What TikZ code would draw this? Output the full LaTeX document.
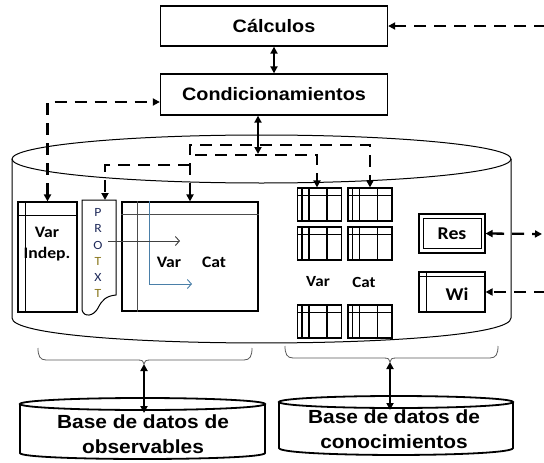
\documentclass[tikz,border=0pt]{standalone}
\usepackage{fontspec}
\setmainfont{Liberation Sans}[FakeStretch=1.1]
\newfontfamily\calfont{Carlito}[FakeStretch=1.1]
\usetikzlibrary{arrows.meta}
\definecolor{navyt}{HTML}{1F2A5A}
\definecolor{olivet}{HTML}{8C7A20}
\definecolor{blueln}{HTML}{4A7FA8}
\tikzset{
  box/.style={draw, line width=1.3pt, inner sep=0pt, font=\fontsize{18}{20}\selectfont\bfseries},
  tb/.style={draw, line width=1.1pt, inner sep=0pt},
  tbl/.style={line width=1.1pt},
  dsh/.style={line width=2.3pt, dash pattern=on 12pt off 8pt},
  thk/.style={line width=2.2pt},
  cyl/.style={line width=1pt},
  dbcyl/.style={line width=1.8pt},
  brc/.style={line width=0.8pt, gray!70!black},
  calb/.style={font={\calfont\bfseries\fontsize{16}{21}\selectfont}},
  cals/.style={font={\calfont\bfseries\fontsize{15.5}{18}\selectfont}},
  calr/.style={font={\calfont\bfseries\fontsize{18}{20}\selectfont}},
  letr/.style={font={\calfont\fontsize{12.5}{13}\selectfont}, inner sep=0pt},
  dbtext/.style={align=center, font={\fontsize{19}{25}\selectfont\bfseries}},
}
\newcommand\smalltbl[3]{%
  \node[tb, minimum width=44pt, minimum height=33pt] (#1) at (#2,#3) {};
  \draw[tbl] ([xshift=5pt]#1.north west) -- ([xshift=5pt]#1.south west);
  \draw[tbl] ([xshift=12pt]#1.north west) -- ([xshift=12pt]#1.south west);
  \draw[tbl] ([xshift=30pt]#1.north west) -- ([xshift=30pt]#1.south west);
  \draw[tbl] ([yshift=-8pt]#1.north west) -- ([yshift=-8pt]#1.north east);
}
\begin{document}
\begin{tikzpicture}[x=1pt,y=-1pt,>={Triangle[length=7pt,width=7pt]}]
\useasboundingbox (0,0) rectangle (544,463);
\fill[white] (0,0) rectangle (544,463);

% top boxes
\node[box, minimum width=227pt, minimum height=40pt] (calc) at (274,26) {Cálculos};
\node[box, minimum width=227pt, minimum height=41pt] (cond) at (274,94.5) {Condicionamientos};
\draw[thk,<->] (calc.south) -- (cond.north);

% big cylinder
\draw[cyl] (261.5,159) ellipse [x radius=249.5, y radius=24];
\draw[cyl] (12,159) -- (12,318) .. controls (12,351.3) and (511,351.3) .. (511,318) -- (511,159);

% Var Indep table
\node[tb, minimum width=59pt, minimum height=110pt] (vi) at (47.5,257) {};
\draw[tbl] ([xshift=8pt]vi.north west) -- ([xshift=8pt]vi.south west);
\draw[tbl] ([yshift=-14pt]vi.north west) -- ([yshift=-14pt]vi.north east);
\node[calb, align=center, inner sep=0pt] (vit) at (47,244) {Var\\Indep.};

% PROTXT document
\draw[line width=1pt] (82,200) -- (116,200) -- (116,295) .. controls (106,296) and (102,300) .. (98,308) .. controls (94,316) and (84,318) .. (82,310) -- cycle;
\coordinate (ptop) at (105,200);
\node[letr, text=navyt] (l1) at (98,212) {P};
\node[letr, text=navyt] (l2) at (98,228) {R};
\node[letr, text=navyt] (l3) at (98,245) {O};
\node[letr, text=olivet] (l4) at (98,261) {T};
\node[letr, text=navyt] (l5) at (98,277) {X};
\node[letr, text=olivet] (l6) at (98,293) {T};

% big table
\node[tb, minimum width=136pt, minimum height=109pt] (bt) at (190,256.5) {};
\draw[line width=1.1pt, gray!60!black] ([yshift=-13pt]bt.north west) -- ([yshift=-13pt]bt.north east);
\draw[line width=1.1pt, gray!60!black] ([xshift=16pt]bt.north west) -- ([xshift=16pt]bt.south west);
\coordinate (btip) at (192,284);
\draw[line width=0.9pt, blueln, -{Straight Barb[length=4pt,width=9pt]}] ([xshift=28pt]bt.north west) |- (btip);
\coordinate (gs) at (108,241);
\coordinate (ge) at (180,241);
\draw[line width=0.9pt, gray!50!black, -{Straight Barb[length=4pt,width=9pt]}] (gs) -- (ge);
\node[calb] (btv) at (169,262) {Var};
\node[calb] (btc) at (214,262) {Cat};

% small tables
\smalltbl{t11}{319.5}{204.5}
\smalltbl{t12}{370}{204.5}
\smalltbl{t21}{319.5}{243.5}
\smalltbl{t22}{370}{243.5}
\smalltbl{t31}{319.5}{321.5}
\smalltbl{t32}{370}{321.5}
\node[cals] (stv) at (318,282) {Var};
\node[cals] (stc) at (364,282) {Cat};

% Res and Wi
\node[tb, minimum width=66pt, minimum height=39pt, calr] (res) at (452,233.5) {Res};
\draw[tbl] ([shift={(5pt,-5pt)}]res.north west) rectangle ([shift={(-4pt,5pt)}]res.south east);
\node[tb, minimum width=66pt, minimum height=40pt] (wi) at (452,292) {};
\draw[tbl] ([yshift=-5pt]wi.north west) -- ([yshift=-5pt]wi.north east);
\draw[tbl] ([xshift=8pt]wi.north west) -- ([xshift=8pt]wi.south west);
\node[calr] (wit) at (457,294) {Wi};

% dashed connectors
\coordinate (a1) at (190,145);
\coordinate (a2) at (370,145);
\draw[dsh,<->] (bt.north) -- (a1) -- (a2) -- (t12.north);
\coordinate (b1) at (105,165);
\coordinate (b2) at (190,165);
\draw[dsh,->] (b2) -- (b1) -- (ptop);
\coordinate (c1) at (195,155);
\coordinate (c2) at (317,155);
\draw[dsh,->] (c1) -- (c2) -- (c2 |- t11.north);
\coordinate (d1) at (258,154);
\draw[thk,<->] (cond.south -| d1) -- (d1);
\coordinate (lft) at (48,102);
\draw[dsh,<->] (vi.north) |- (cond.west |- lft);
\coordinate (r0) at (546,26);
\draw[dsh,->] (r0) -- (calc.east);
\coordinate (r1) at (542,234);
\draw[dsh,<->] (res.east) -- (r1);
\coordinate (r2) at (546,292);
\draw[dsh,->] (r2) -- (wi.east);

% braces
\draw[brc] (38,348) .. controls (38,356) and (40,360) .. (46,360) -- (138,360) .. controls (142,360) and (144,361) .. (144,364) .. controls (144,361) and (146,360) .. (150,360) -- (244,360) .. controls (250,360) and (252,356) .. (252,348);
\draw[brc] (285,346) .. controls (285,354) and (287,358) .. (293,358) -- (384,358) .. controls (388,358) and (390,359) .. (390,362) .. controls (390,359) and (392,358) .. (396,358) -- (490,358) .. controls (496,358) and (498,354) .. (498,346);
\coordinate (bL) at (144,364);
\coordinate (bR) at (390,362);

% bottom cylinders
\draw[dbcyl] (142.5,404) ellipse [x radius=122.5, y radius=6];
\draw[dbcyl] (20,404) -- (20,453) .. controls (20,461) and (265,461) .. (265,453) -- (265,404);
\draw[dbcyl] (396,402) ellipse [x radius=117, y radius=6];
\draw[dbcyl] (279,402) -- (279,448) .. controls (279,457.3) and (513,457.3) .. (513,448) -- (513,402);
\coordinate (db1) at (144,413);
\coordinate (db2) at (390,410);
\draw[thk,<->] (bL) -- (db1);
\draw[thk,<->] (bR) -- (db2);
\node[dbtext] (db1t) at (143,434.5) {Base de datos de\\observables};
\node[dbtext] (db2t) at (394,429) {Base de datos de\\conocimientos};
\end{tikzpicture}
\end{document}
